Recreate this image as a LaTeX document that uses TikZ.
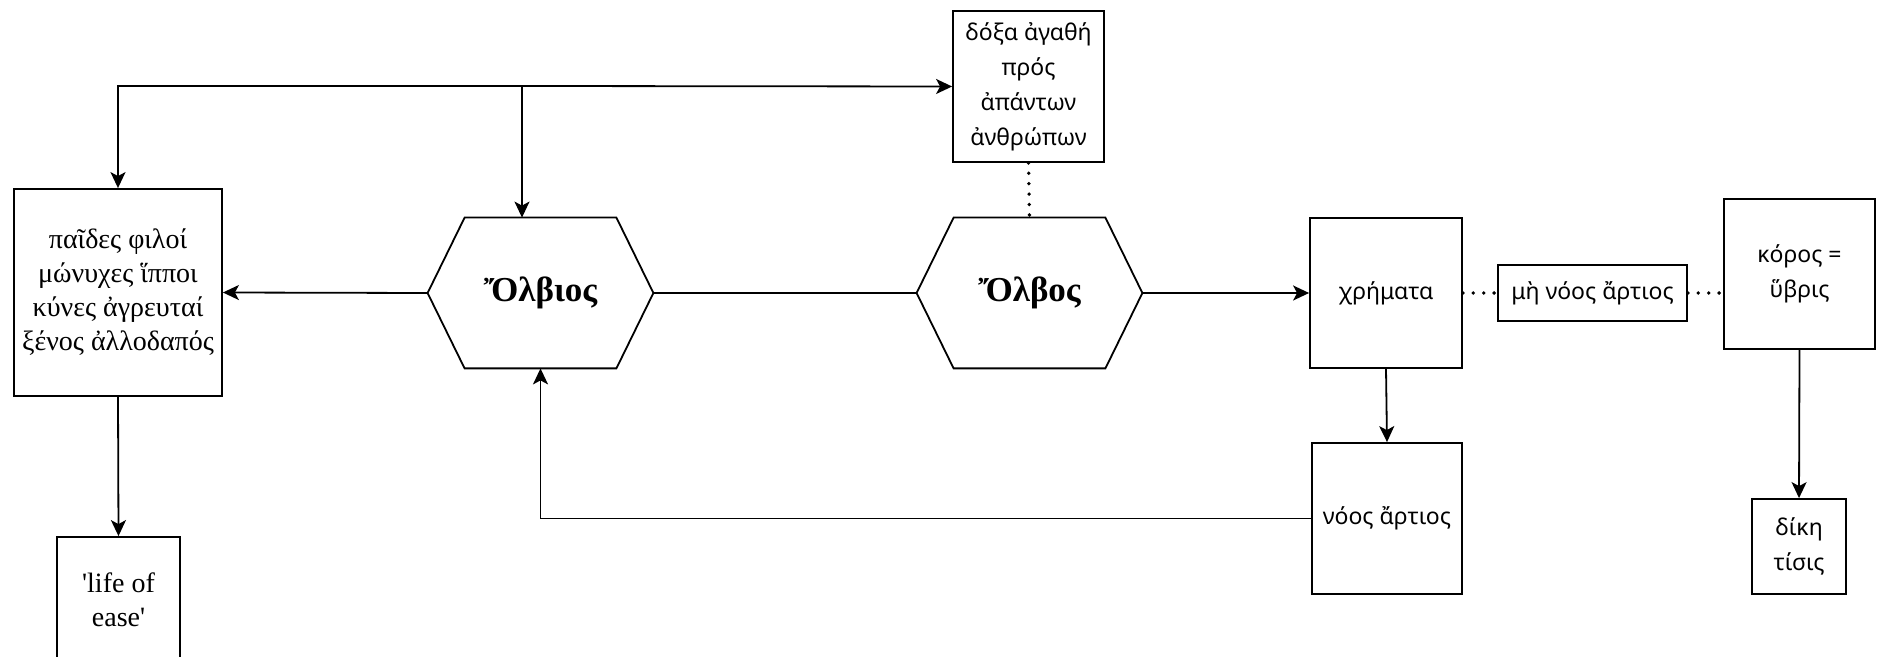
\documentclass[tikz,border=0pt]{standalone}
\usepackage{fontspec}
\setmainfont{Liberation Serif}
\newfontfamily\grsans{Noto Sans}
\usetikzlibrary{arrows.meta,positioning}

\begin{document}
\begin{tikzpicture}[x=0.5pt, y=-0.5pt,
    box/.style={draw, line width=0.9pt, align=center, inner sep=1pt, font=\fontsize{14}{17}\selectfont},
    sbox/.style={draw, line width=0.9pt, align=center, inner sep=1pt, font=\grsans\fontsize{11.5}{17.5}\selectfont},
    hexa/.style={minimum width=112.5pt, minimum height=75pt, inner sep=0pt, font=\bfseries\fontsize{17.5}{20}\selectfont,
        append after command={\pgfextra{\draw[line width=0.9pt]
            (\tikzlastnode.west) -- ([xshift=18.5pt]\tikzlastnode.north west)
            -- ([xshift=-18.5pt]\tikzlastnode.north east) -- (\tikzlastnode.east)
            -- ([xshift=-18.5pt]\tikzlastnode.south east) -- ([xshift=18.5pt]\tikzlastnode.south west) -- cycle;}}},
    edge/.style={-{Stealth[length=8pt,width=7.5pt,inset=2pt]}, line width=0.9pt},
    plain/.style={line width=0.9pt},
    dots/.style={line width=1.9pt, line cap=round, dash pattern=on 0pt off 5.2pt}
]
    \useasboundingbox (0,0) rectangle (1883,657);

    \node[box, minimum width=104pt, minimum height=103.5pt] (kids) at (118,292.5) {παῖδες φιλοί\\μώνυχες ἵπποι\\κύνες ἀγρευταί\\ξένος ἀλλοδαπός};
    \node[box, minimum width=61.5pt, minimum height=63pt] (life) at (118.5,600) {\textquotesingle life of\\ease\textquotesingle};
    \node[hexa] (olbios) at (540.5,293) {Ὄλβιος};
    \node[hexa] (olbos) at (1029.5,293) {Ὄλβος};
    \node[sbox, minimum width=75.5pt, minimum height=75.5pt] (glory) at (1028.5,86.5) {δόξα ἀγαθή\\πρός\\ἀπάντων\\ἀνθρώπων};
    \node[sbox, minimum width=76pt, minimum height=75pt] (wealth) at (1386,293) {χρήματα};
    \node[sbox, minimum width=94.5pt, minimum height=28pt] (notmind) at (1592.5,293) {μὴ νόος ἄρτιος};
    \node[sbox, minimum width=75.5pt, minimum height=75pt] (koros) at (1799.5,274) {κόρος =\\ὕβρις};
    \node[sbox, minimum width=75pt, minimum height=75.5pt] (mind) at (1387,518.5) {νόος ἄρτιος};
    \node[sbox, minimum width=47pt, minimum height=47.5pt] (dike) at (1799,546.5) {δίκη\\τίσις};
    \coordinate (fork) at (522,86);

    \draw[edge] (fork) -| (kids.north);
    \draw[edge] (fork) -- (glory.west);
    \draw[edge] (fork) -- (fork |- olbios.north);
    \draw[edge] (olbios.west) -- (kids.east);
    \draw[plain] (olbios.east) -- (olbos.west);
    \draw[edge] (olbos.east) -- (wealth.west);
    \draw[dots] (glory.south) -- (olbos.north);
    \draw[dots] (wealth.east) -- (notmind.west);
    \draw[dots] (notmind.east) -- (notmind.east -| koros.west);
    \draw[edge] (wealth.south) -- (mind.north);
    \draw[edge] (mind.west) -| (olbios.south);
    \draw[edge] (kids.south) -- (life.north);
    \draw[edge] (koros.south) -- (dike.north);
\end{tikzpicture}
\end{document}
